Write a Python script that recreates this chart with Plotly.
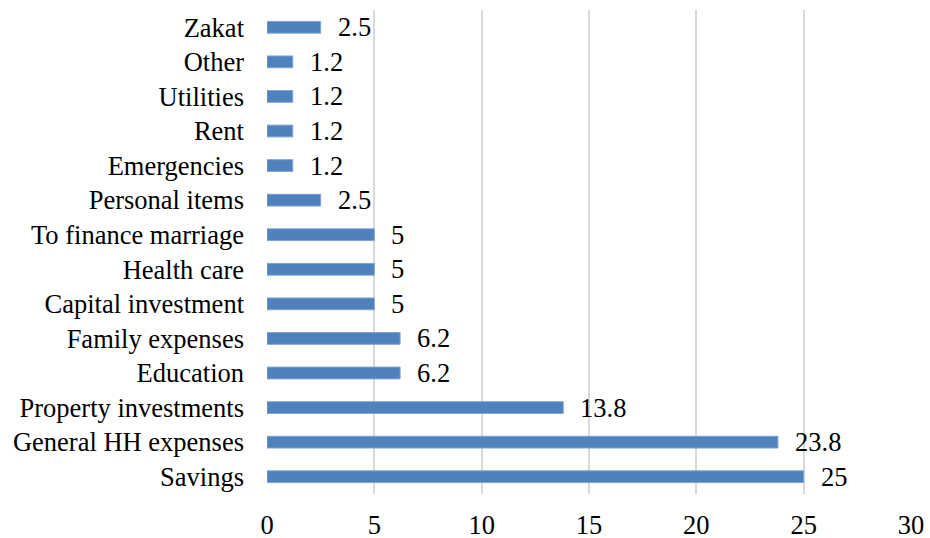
import plotly.graph_objects as go

# Categories listed bottom to top, with their shares
categories = [
    "Savings", "General HH expenses", "Property investments", "Education",
    "Family expenses", "Capital investment", "Health care", "To finance marriage",
    "Personal items", "Emergencies", "Rent", "Utilities", "Other", "Zakat",
]
values = [25, 23.8, 13.8, 6.2, 6.2, 5, 5, 5, 2.5, 1.2, 1.2, 1.2, 1.2, 2.5]
x_ticks = [0, 5, 10, 15, 20, 25, 30]

FONT = "Liberation Serif, Times New Roman, serif"
FSIZE = 26.5

fig = go.Figure(
    go.Bar(
        x=values,
        y=categories,
        orientation="h",
        marker=dict(color="#4F81BD", line=dict(color="#7FA3D3", width=1)),
        width=0.34,
        hoverinfo="x+y",
    )
)

# Value labels to the right of each bar
for cat, val in zip(categories, values):
    fig.add_annotation(
        x=val, y=cat, text=f"{val:g}", showarrow=False,
        xanchor="left", yanchor="middle", xshift=15,
        font=dict(family=FONT, size=FSIZE, color="black"),
    )

fig.update_layout(
    width=930, height=538,
    margin=dict(l=267, r=19, t=10, b=44),
    paper_bgcolor="white", plot_bgcolor="white",
    showlegend=False,
    font=dict(family=FONT, size=FSIZE, color="black"),
)
fig.update_xaxes(
    range=[0, 30], tickvals=x_ticks, showgrid=True, automargin=False,
    gridcolor="#D9D9D9", gridwidth=1.5, zeroline=False, showline=False,
    ticks="", ticklabelstandoff=12,
    tickfont=dict(family=FONT, size=FSIZE, color="black"),
)
fig.update_yaxes(
    type="category", categoryorder="array", categoryarray=categories,
    showgrid=False, zeroline=False, showline=False, ticks="", automargin=False,
    ticklabelstandoff=22,
    tickfont=dict(family=FONT, size=FSIZE, color="black"),
)

fig.write_html("out.html")
